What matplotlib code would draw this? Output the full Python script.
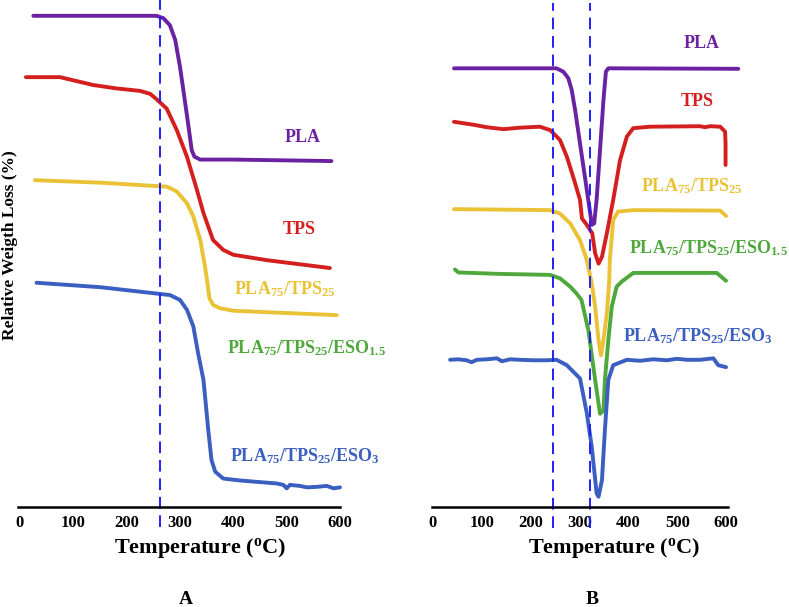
import matplotlib
matplotlib.use("Agg")
import matplotlib.pyplot as plt

# ---- Panel A : TGA curves (temperature in degC, relative weight in arbitrary stacked units)
tga_pla_t = [25, 256, 269, 281, 291, 300, 309, 316, 322, 327, 338, 400, 584]
tga_pla_y = [100.1, 100.1, 99.6, 98.2, 95.2, 89.7, 82.9, 77.5, 72.7, 71.4, 70.8, 70.8, 70.5]

tga_tps_t = [11, 75, 106, 137, 181, 225, 244, 256, 275, 294, 313, 331, 344, 362, 381, 400, 463, 581]
tga_tps_y = [87.6, 87.6, 86.8, 86.0, 85.3, 84.8, 84.2, 83.1, 81.2, 76.8, 71.4, 64.9, 59.9, 54.4, 52.4, 51.4, 50.3, 48.7]

tga_blend_t = [28, 150, 256, 275, 294, 313, 325, 338, 347, 352, 355, 362, 375, 400, 463, 594]
tga_blend_y = [66.6, 66.1, 65.4, 65.3, 64.3, 61.9, 59.2, 54.4, 48.9, 45.2, 42.6, 41.2, 40.5, 40.0, 39.7, 39.1]

tga_eso3_t = [31, 150, 256, 281, 300, 313, 325, 334, 344, 353, 359, 366, 381, 413, 481, 494, 500,
              506, 525, 538, 556, 575, 588, 600]
tga_eso3_y = [45.7, 44.8, 43.5, 43.2, 42.2, 40.2, 36.8, 31.3, 25.9, 15.7, 9.6, 7.2, 5.8, 5.4, 4.8, 4.5, 3.8,
              4.5, 4.3, 4.0, 4.1, 4.3, 3.8, 4.0]

# ---- Panel B : DTG curves
dtg_pla_t = [43, 253, 267, 277, 284, 291, 301, 311, 322, 325, 330, 335, 342, 349, 354, 359, 625]
dtg_pla_y = [89.4, 89.4, 88.7, 87.4, 85.0, 80.9, 74.1, 67.3, 59.8, 57.5, 57.8, 62.6, 72.7, 82.9, 88.7, 89.4, 89.3]

dtg_tps_t = [43, 83, 110, 144, 178, 219, 240, 260, 274, 287, 301, 305, 315, 326, 332, 339, 346, 356,
             369, 383, 397, 410, 444, 547, 557, 567, 588, 598, 599, 599]
dtg_tps_y = [78.5, 77.9, 77.4, 77.0, 77.3, 77.5, 76.8, 74.8, 71.4, 67.3, 62.6, 58.8, 57.5, 55.8, 51.7, 49.6, 51.0, 55.8,
             62.6, 70.7, 75.5, 77.2, 77.5, 77.6, 77.4, 77.6, 77.5, 76.5, 74.1, 69.7]

dtg_blend_t = [43, 240, 260, 281, 301, 315, 325, 332, 339, 344, 349, 356, 361, 362, 369, 379, 410, 588, 600]
dtg_blend_y = [60.7, 60.5, 59.8, 57.8, 54.4, 50.3, 45.6, 40.8, 34.0, 30.9, 34.0, 39.5, 46.3, 50.3, 58.5, 60.2, 60.5, 60.4, 59.3]

dtg_eso15_t = [45, 52, 137, 240, 260, 281, 294, 304, 318, 332, 342, 349, 352, 359, 366, 376, 386, 410, 581, 600]
dtg_eso15_y = [48.4, 47.8, 47.5, 47.3, 46.6, 44.9, 43.5, 42.2, 36.1, 25.9, 19.0, 19.6, 25.9, 34.0, 40.8, 44.9, 45.9, 47.7, 47.7, 46.1]

dtg_eso3_t = [35, 52, 69, 79, 90, 110, 131, 141, 158, 178, 205, 233, 253, 274, 301, 315, 325, 335, 339, 346,
              352, 359, 369, 397, 424, 451, 479, 499, 520, 547, 574, 584, 600]
dtg_eso3_y = [30.0, 30.1, 29.9, 29.5, 30.0, 30.1, 30.3, 29.7, 30.1, 30.0, 29.9, 29.9, 30.0, 28.9, 26.2, 19.1, 12.3, 2.8, 2.1, 5.5,
              15.7, 25.9, 28.9, 30.0, 29.8, 30.1, 29.9, 30.2, 30.0, 30.0, 30.3, 28.9, 28.5]

onset_a = [262]
onset_b = [245, 321]
xticks = [0, 100, 200, 300, 400, 500, 600]

c_pla, c_tps, c_blend, c_eso15, c_eso3 = "#6a22a2", "#d41f1f", "#eac236", "#4fa83c", "#3b5fc0"
c_dash = "#1f1fff"

plt.rcParams["font.family"] = ["Liberation Serif", "DejaVu Serif"]
plt.rcParams["font.weight"] = "bold"
plt.rcParams["mathtext.fontset"] = "custom"
plt.rcParams["mathtext.rm"] = "Liberation Serif:bold"
plt.rcParams["mathtext.bf"] = "Liberation Serif:bold"
plt.rcParams["mathtext.it"] = "Liberation Serif:bold"

W, H = 789, 607
fig = plt.figure(figsize=(W / 100, H / 100), dpi=100)
ymax = 507 / 4.907

def make_ax(left_px, right_px, xlo, xhi):
    ax = fig.add_axes([left_px / W, (H - 507) / H, (right_px - left_px) / W, 507 / H])
    ax.set_xlim(xlo, xhi)
    ax.set_ylim(0, ymax)
    for s in ["top", "right", "left"]:
        ax.spines[s].set_visible(False)
    ax.spines["bottom"].set_linewidth(1.8)
    ax.set_yticks([])
    ax.set_xticks(xticks)
    ax.tick_params(axis="x", length=0, pad=6, labelsize=12)
    for lab in ax.get_xticklabels():
        lab.set_fontweight("bold")
    return ax

lw = 2.8
kw = dict(lw=lw, solid_joinstyle="round", solid_capstyle="round", clip_on=False)
dash = (0, (6, 3.5))

axA = make_ax(18, 340, -3.75, 600)
axA.plot(tga_pla_t, tga_pla_y, color=c_pla, **kw)
axA.plot(tga_tps_t, tga_tps_y, color=c_tps, **kw)
axA.plot(tga_blend_t, tga_blend_y, color=c_blend, **kw)
axA.plot(tga_eso3_t, tga_eso3_y, color=c_eso3, **kw)
for t in onset_a:
    axA.plot([t, t], [-4.1, ymax], color=c_dash, lw=1.4, ls=dash, clip_on=False)

axB = make_ax(432, 728, -2, 604)
axB.plot(dtg_pla_t, dtg_pla_y, color=c_pla, **kw)
axB.plot(dtg_tps_t, dtg_tps_y, color=c_tps, **kw)
axB.plot(dtg_blend_t, dtg_blend_y, color=c_blend, **kw)
axB.plot(dtg_eso15_t, dtg_eso15_y, color=c_eso15, **kw)
axB.plot(dtg_eso3_t, dtg_eso3_y, color=c_eso3, **kw)
for t in onset_b:
    axB.plot([t, t], [-4.3, ymax - 0.6], color=c_dash, lw=1.4, ls=dash, clip_on=False)

lab_pla = "PLA"
lab_tps = "TPS"
lab_blend = r"$\mathbf{PLA_{75}/TPS_{25}}$"
lab_eso15 = r"$\mathbf{PLA_{75}/TPS_{25}/ESO_{1.5}}$"
lab_eso3 = r"$\mathbf{PLA_{75}/TPS_{25}/ESO_{3}}$"

def ftext(x, y, s, c, size=13):
    fig.text(x / W, 1 - y / H, s, color=c, fontsize=size, fontweight="bold", ha="center", va="center")

ftext(303, 138, lab_pla, c_pla)
ftext(299, 230, lab_tps, c_tps)
ftext(285, 289, lab_blend, c_blend)
ftext(306, 348, lab_eso15, c_eso15)
ftext(305, 456, lab_eso3, c_eso3)

ftext(702, 44, lab_pla, c_pla)
ftext(697, 102, lab_tps, c_tps)
ftext(692, 186, lab_blend, c_blend)
ftext(708, 248, lab_eso15, c_eso15)
ftext(698, 336, lab_eso3, c_eso3)

xlabel = r"Temperature ($^{\mathbf{o}}$C)"
ftext(200, 548, xlabel, "black", 16)
ftext(614, 548, xlabel, "black", 16)
ftext(186, 600, "A", "black", 14)
ftext(592, 600, "B", "black", 14)

fig.text(10 / W, 1 - 245 / H, "Relative Weigth Loss (%)", rotation=90, fontsize=12.5,
         fontweight="bold", ha="center", va="center")

fig.savefig("out.png", dpi=100)
